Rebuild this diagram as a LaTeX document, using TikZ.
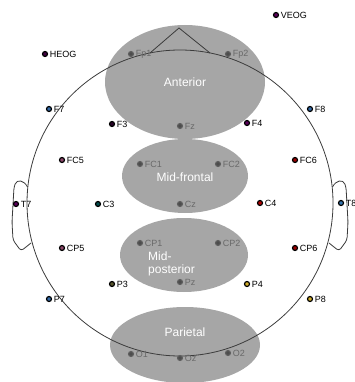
\documentclass[tikz,border=0pt]{standalone}
\usepackage{fontspec}
\setmainfont{Liberation Sans}
\begin{document}
\begin{tikzpicture}[x=1pt,y=-1pt,
  region/.style={fill=regiongray,draw=none},
  head/.style={draw=headline,line width=0.8pt},
  dot/.style={circle,draw=black,line width=1.2pt,inner sep=0pt,minimum size=5pt},
  gdot/.style={circle,draw=gray!75!black,fill=gray!60!black,line width=1.1pt,inner sep=0pt,minimum size=5pt},
  lbl/.style={font=\fontsize{9}{10}\selectfont,text=black,inner sep=0pt,anchor=west},
  glbl/.style={font=\fontsize{9}{10}\selectfont,text=labgray,inner sep=0pt,anchor=west},
  rlbl/.style={font=\fontsize{12}{14}\selectfont,text=white,inner sep=0pt}]
\definecolor{regiongray}{RGB}{166,166,166}
\definecolor{headline}{RGB}{60,60,60}
\definecolor{labgray}{RGB}{105,105,105}
\useasboundingbox (0,0) rectangle (354,382);
\clip (0,0) rectangle (354,382);
% regions
\draw[region] (185,82) ellipse [x radius=80, y radius=57];
\draw[region] (185,176) ellipse [x radius=63, y radius=37];
\draw[region] (184,255) ellipse [x radius=64, y radius=37];
\draw[region] (185,345) ellipse [x radius=75, y radius=38];
% head
\draw[head] (180,203) circle [radius=153];
\coordinate (noseL) at (150,53);
\coordinate (noseT) at (179,28);
\coordinate (noseR) at (210,53);
\draw[head] (noseL) -- (noseT) -- (noseR);
\draw[head,rounded corners=3pt] (27.5,187) .. controls (24,180) and (17,179) .. (14,187) -- (12,222) -- (13,240) -- (21,251) -- (31,243);
\draw[head,rounded corners=3pt] (332.5,187) .. controls (336,180) and (343,179) .. (346,187) -- (348,222) -- (347,240) -- (339,251) -- (329,243);
% region labels
\node[rlbl] (tA) at (185,82) {Anterior};
\node[rlbl] (tMF) at (185,177) {Mid-frontal};
\node[rlbl,anchor=west,align=left,font=\fontsize{12}{13.5}\selectfont] (tMP) at (148,264) {Mid-\\posterior};
\node[rlbl] (tP) at (185,332) {Parietal};
% electrodes outside regions
\newcommand{\elec}[5]{\node[dot,fill=#4] (#1) at (#2,#3) {};\node[lbl] (l#1) at ([xshift=1.6pt]#1.east) {#5};}
\newcommand{\gelec}[4]{\node[gdot] (#1) at (#2,#3) {};\node[glbl] (l#1) at ([xshift=1.6pt]#1.east) {#4};}
\elec{HEOG}{45}{54}{violet!50!black}{HEOG}
\elec{VEOG}{276}{15}{violet!70!black}{VEOG}
\elec{F7}{49}{109}{cyan!50!blue!80!black}{F7}
\elec{F3}{112}{124}{violet!30!black}{F3}
\elec{F4}{247}{123}{violet!70!black}{F4}
\elec{F8}{310}{109}{cyan!50!blue!80!black}{F8}
\elec{FC5}{62}{160}{magenta!50!black}{FC5}
\elec{FC6}{295}{160}{red!60!black}{FC6}
\elec{T7}{16}{204}{violet!70!black}{T7}
\elec{C3}{98}{204}{teal!60!black}{C3}
\elec{C4}{260}{203}{red!70!black}{C4}
\elec{T8}{341}{203}{cyan!60!blue!80!black}{T8}
\elec{CP5}{62}{248}{magenta!50!black}{CP5}
\elec{CP6}{295}{248}{red!60!black}{CP6}
\elec{P7}{49}{299}{cyan!50!blue!80!black}{P7}
\elec{P3}{112}{284}{olive!50!black}{P3}
\elec{P4}{247}{284}{yellow!60!orange!80!black}{P4}
\elec{P8}{310}{299}{yellow!60!orange!80!black}{P8}
% electrodes inside regions
\gelec{Fp1}{131}{54}{Fp1}
\gelec{Fp2}{228}{54}{Fp2}
\gelec{Fz}{180}{126}{Fz}
\gelec{FC1}{140}{164}{FC1}
\gelec{FC2}{218}{164}{FC2}
\gelec{Cz}{180}{204}{Cz}
\gelec{CP1}{140}{243}{CP1}
\gelec{CP2}{218}{243}{CP2}
\gelec{Pz}{180}{282}{Pz}
\gelec{O1}{131}{354}{O1}
\gelec{Oz}{180}{358}{Oz}
\gelec{O2}{228}{353}{O2}
\end{tikzpicture}
\end{document}
